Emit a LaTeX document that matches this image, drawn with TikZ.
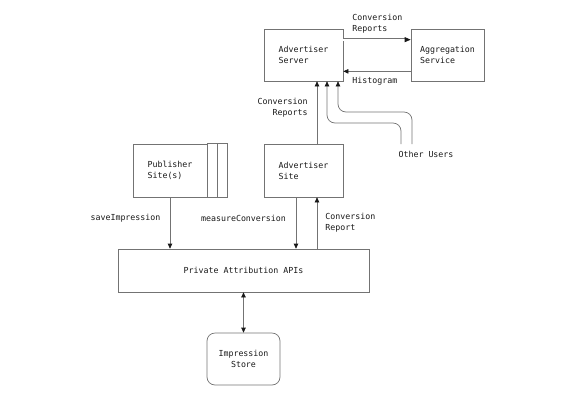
\documentclass[tikz,border=0pt]{standalone}
\usepackage{fontspec}
\setmonofont{DejaVu Sans Mono}
\usetikzlibrary{arrows.meta}

\begin{document}
\begin{tikzpicture}
[
  x=1pt, y=-1pt,
  color=black!55, line width=0.7pt,
  >={Triangle[length=5pt,width=4.5pt,color=black!90]},
  every node/.style = {font=\ttfamily\fontsize{8.3}{11}\selectfont, text=black!90},
  box/.style = {draw, rectangle, inner sep = 0pt, align=left},
  store/.style = {draw, rectangle, rounded corners = 8pt, inner sep = 0pt, align=center},
  lbl/.style = {inner sep = 0pt},
]
\useasboundingbox (0,0) rectangle (576,400);

\node (server) at (303.5,55) [box,minimum width=79pt,minimum height=52pt] {Advertiser\\Server};
\node (aggr) at (447.5,55) [box,minimum width=73pt,minimum height=52pt] {Aggregation\\Service};
\node (advsite) at (303.5,170.5) [box,minimum width=79pt,minimum height=53pt] {Advertiser\\Site};
\node (pub) at (170,170.5) [box,minimum width=74pt,minimum height=53pt] {Publisher\\Site(s)};
\node (api) at (243.5,270.5) [box,minimum width=251pt,minimum height=43pt] {Private Attribution APIs};
\node (imp) at (243.5,359) [store,minimum width=73pt,minimum height=52pt] {Impression\\Store};
\node (others) at (426,154) [lbl] {Other Users};

\coordinate (ou1) at (401,144);
\coordinate (ou2) at (412,144);

\draw (pub.north east) rectangle ([xshift=10pt]pub.south east);
\draw ([xshift=10pt]pub.north east) rectangle ([xshift=20pt]pub.south east);

\draw[-{Triangle[length=6pt,width=5pt,color=black!90]}, double, double distance=2pt] ([yshift=-11pt]server.north east) -- ([yshift=-11pt]aggr.north west);
\draw[->] ([yshift=10pt]aggr.south west) -- ([yshift=10pt]server.south east);
\draw[->] ([xshift=13.5pt]advsite.north) -- ([xshift=13.5pt]server.south);
\draw[->, rounded corners=8pt] (ou1) |- ([xshift=23.5pt]server.south |- 0,123) -- ([xshift=23.5pt]server.south);
\draw[->, rounded corners=8pt] (ou2) |- ([xshift=34.5pt]server.south |- 0,112) -- ([xshift=34.5pt]server.south);

\draw[->] (pub.south) -- (pub.south |- api.north);
\draw[->] ([xshift=-7.5pt]advsite.south) -- ([xshift=-7.5pt]advsite.south |- api.north);
\draw[->] ([xshift=13.5pt]advsite.south |- api.north) -- ([xshift=13.5pt]advsite.south);
\draw[<->] (api.south) -- (imp.north);

\node (lconv) at (352,24) [lbl,anchor=west,align=left] {Conversion\\Reports};
\node (lhist) at (352,81) [lbl,anchor=west] {Histogram};
\node (lreports) at (308,108) [lbl,anchor=east,align=right] {Conversion\\Reports};
\node (lsave) at (125.5,218) [lbl] {saveImpression};
\node (lmeasure) at (243.5,218) [lbl] {measureConversion};
\node (lreport) at (325,223) [lbl,anchor=west,align=left] {Conversion\\Report};

\end{tikzpicture}
\end{document}
